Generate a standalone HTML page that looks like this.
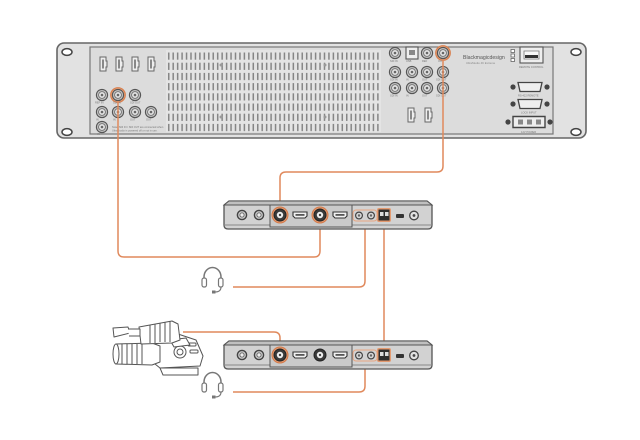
<!DOCTYPE html>
<html><head><meta charset="utf-8"><style>
html,body{margin:0;padding:0;background:#fff;}
svg{display:block;}
text{font-family:"Liberation Sans",sans-serif;}
</style></head><body>
<svg width="640" height="440" viewBox="0 0 640 440" xmlns="http://www.w3.org/2000/svg">
<defs>
<pattern id="vent" x="167" y="52" width="4.45" height="10.2" patternUnits="userSpaceOnUse">
<rect x="1" y="0.5" width="1.5" height="7.2" fill="#858585"/>
</pattern>
<g id="bnc">
<circle r="5.6" fill="#c2c2c2" stroke="#555" stroke-width="1.1"/>
<circle r="3.4" fill="#e2e2e2" stroke="#666" stroke-width="0.8"/>
<circle r="1.3" fill="#666"/>
</g>
<g id="vhdmi">
<path d="M-3,-7 H3 V-3 H4 V3 H3 V7 H-3 Z" fill="#eee" stroke="#666" stroke-width="1"/>
<rect x="-1" y="-4.5" width="2" height="9" fill="#888"/>
</g>
<g id="dbnc">
<circle r="6" fill="#3a3a3a" stroke="#222" stroke-width="1"/>
<circle r="3.2" fill="#eee"/>
<circle r="1.2" fill="#444"/>
</g>
<g id="jack">
<circle r="4.6" fill="#c8c8c8" stroke="#444" stroke-width="1.4"/>
<circle r="2.1" fill="#eee" stroke="#555" stroke-width="0.8"/>
</g>
<g id="hdmi">
<path d="M-7,-3 H7 V1 L5,3 H-5 L-7,1 Z" fill="#f2f2f2" stroke="#333" stroke-width="1.1"/>
<rect x="-4.5" y="-1" width="9" height="1.8" fill="#555"/>
</g>
<g id="sjack">
<circle r="3.4" fill="#d8d8d8" stroke="#444" stroke-width="1.2"/>
<circle r="1.2" fill="#666"/>
</g>
<g id="hp">
<path d="M2,18 V10 A8.5,9.5 0 0 1 19,10 V18" fill="none" stroke="#777" stroke-width="1.5"/>
<rect x="0" y="11" width="4.5" height="9" rx="2" fill="#fff" stroke="#777" stroke-width="1.2"/>
<rect x="16.5" y="11" width="4.5" height="9" rx="2" fill="#fff" stroke="#777" stroke-width="1.2"/>
<path d="M19,20 Q19,25 13,25" fill="none" stroke="#777" stroke-width="1.1"/>
<rect x="10" y="23.5" width="3.5" height="3" fill="#777"/>
</g>
</defs>

<!-- RACK UNIT -->
<rect x="57" y="43" width="529" height="95" rx="7" fill="#e2e2e2" stroke="#666" stroke-width="1.6"/>
<ellipse cx="67" cy="52" rx="5" ry="3.4" fill="#fff" stroke="#444" stroke-width="1.5"/>
<ellipse cx="67" cy="132" rx="5" ry="3.4" fill="#fff" stroke="#444" stroke-width="1.5"/>
<ellipse cx="576" cy="52" rx="5" ry="3.4" fill="#fff" stroke="#444" stroke-width="1.5"/>
<ellipse cx="576" cy="132" rx="5" ry="3.4" fill="#fff" stroke="#444" stroke-width="1.5"/>
<rect x="90" y="47" width="463" height="87" fill="#dcdcdc" stroke="#777" stroke-width="1.2"/>
<!-- vent -->
<rect x="166" y="50" width="215" height="82" fill="#e4e4e4"/>
<rect x="167" y="52" width="213" height="80" fill="url(#vent)"/>
<circle cx="221" cy="65" r="1.5" fill="#999"/><circle cx="325" cy="65" r="1.5" fill="#999"/>
<circle cx="221" cy="117" r="1.5" fill="#999"/><circle cx="325" cy="117" r="1.5" fill="#999"/>

<!-- left HDMI -->
<use href="#vhdmi" x="103" y="64"/><use href="#vhdmi" x="119" y="64"/>
<use href="#vhdmi" x="135" y="64"/><use href="#vhdmi" x="151" y="64"/>
<!-- left BNC grid -->
<use href="#bnc" x="102" y="95"/>
<circle cx="118" cy="95" r="7.3" fill="#e6a27c" stroke="#d9804f" stroke-width="1.2"/>
<use href="#bnc" x="118" y="95"/>
<use href="#bnc" x="135" y="95"/>
<use href="#bnc" x="102" y="112"/><use href="#bnc" x="118" y="112"/>
<use href="#bnc" x="135" y="112"/><use href="#bnc" x="151" y="112"/>
<use href="#bnc" x="102" y="127"/>
<g fill="#777" font-size="2.6">
<text x="95" y="103.5">REF IN</text><text x="113" y="103.5">SDI IN</text><text x="130" y="103.5">SDI OUT</text>
<text x="96" y="120.5">IN</text><text x="113" y="120.5">IN</text><text x="130" y="120.5">OUT</text><text x="146" y="120.5">OUT</text>
<text x="97" y="135">IN</text>
<text x="112" y="128">Note: SDI IN / SDI OUT are connected when</text>
<text x="112" y="131.5">UltraStudio is powered off or not in use.</text>
</g>

<!-- right BNC grid -->
<use href="#bnc" x="395" y="53"/>
<rect x="406" y="47" width="12" height="12" fill="#eee" stroke="#555" stroke-width="1.1"/>
<rect x="409" y="50" width="6" height="5" fill="#888"/>
<use href="#bnc" x="427" y="53"/>
<circle cx="443" cy="53" r="7.3" fill="#e6a27c" stroke="#d9804f" stroke-width="1.2"/>
<use href="#bnc" x="443" y="53"/>
<use href="#bnc" x="395" y="72"/><use href="#bnc" x="412" y="72"/>
<use href="#bnc" x="427" y="72"/><use href="#bnc" x="443" y="72"/>
<use href="#bnc" x="395" y="88"/><use href="#bnc" x="412" y="88"/>
<use href="#bnc" x="427" y="88"/><use href="#bnc" x="443" y="88"/>
<g fill="#777" font-size="2.6">
<text x="390" y="62">SDI IN</text><text x="406" y="62">USB</text><text x="422" y="62">REF</text><text x="438" y="62">OUT</text>
<text x="390" y="80.5">SDI IN</text><text x="406" y="80.5">IN</text><text x="422" y="80.5">OUT</text><text x="436" y="80.5">SDI OUT</text>
<text x="390" y="96.5">SDI IN</text><text x="406" y="96.5">IN</text><text x="422" y="96.5">OUT</text><text x="436" y="96.5">SDI OUT</text>
</g>
<use href="#vhdmi" x="411" y="115"/><use href="#vhdmi" x="428" y="115"/>

<!-- logo -->
<text x="463" y="59" font-size="5.2" fill="#555">Blackmagicdesign</text>
<text x="466" y="64" font-size="2.8" fill="#888">UltraStudio 4K Extreme</text>
<rect x="511" y="49.5" width="3.5" height="3" fill="#fff" stroke="#666" stroke-width="0.8"/>
<rect x="511" y="54" width="3.5" height="3" fill="#fff" stroke="#666" stroke-width="0.8"/>
<rect x="511" y="58.5" width="3.5" height="3" fill="#fff" stroke="#666" stroke-width="0.8"/>
<!-- ethernet -->
<rect x="520" y="47" width="23" height="16" fill="#eee" stroke="#555" stroke-width="1.1"/>
<path d="M524,51 H539 V59 H524 Z" fill="#f8f8f8" stroke="#777" stroke-width="0.8"/>
<rect x="525" y="55" width="13" height="3" fill="#333"/>
<text x="519" y="68" font-size="2.6" fill="#777">REMOTE CONTROL</text>
<!-- DB9s -->
<circle cx="513" cy="87" r="2.6" fill="#444"/><circle cx="547" cy="87" r="2.6" fill="#444"/>
<path d="M518,82.5 H542 L540,91.5 H520 Z" fill="#eee" stroke="#444" stroke-width="1.3"/>
<text x="518" y="96.5" font-size="2.6" fill="#777">RS-422 REMOTE</text>
<circle cx="513" cy="104" r="2.6" fill="#444"/><circle cx="547" cy="104" r="2.6" fill="#444"/>
<path d="M518,99.5 H542 L540,108.5 H520 Z" fill="#eee" stroke="#444" stroke-width="1.3"/>
<text x="521" y="113.5" font-size="2.6" fill="#777">LOCK INPUT</text>
<circle cx="508" cy="122" r="2.6" fill="#444"/><circle cx="550" cy="122" r="2.6" fill="#444"/>
<path d="M513,116.5 H545 V127.5 H513 Z" fill="#eee" stroke="#444" stroke-width="1.4"/>
<rect x="518" y="119.5" width="5" height="5" fill="#888"/><rect x="527" y="119.5" width="5" height="5" fill="#888"/><rect x="536" y="119.5" width="5" height="5" fill="#888"/>
<text x="521" y="133" font-size="2.6" fill="#777">12V POWER</text>

<!-- CONNECTOR LINES -->
<g fill="none" stroke="#e0895c" stroke-width="1.5">
<path d="M118,101 V251 Q118,257 124,257 H314 Q320,257 320,251 V221"/>
<path d="M443,60 V166 Q443,172 437,172 H286 Q280,172 280,178 V207"/>
<path d="M233,287 H359 Q365,287 365,281 V221"/>
<path d="M384,221 V348"/>
<path d="M183,332 H274 Q280,332 280,338 V349"/>
<path d="M233,392 H359 Q365,392 365,386 V362"/>
</g>

<!-- MIDDLE DEVICE -->
<g transform="translate(224,201)">
<path d="M5,0 H203 L208,4 V24 Q208,28 204,28 H4 Q0,28 0,24 V4 Z" fill="#d2d2d2" stroke="#555" stroke-width="1.3"/>
<path d="M5,0 H203 L208,4 H0 Z" fill="#c0c0c0" stroke="#555" stroke-width="0.9"/>
<path d="M0,24 H208" stroke="#888" stroke-width="1"/>
<rect x="46" y="4" width="82" height="22" fill="#cacaca" stroke="#555" stroke-width="1"/>
<use href="#jack" x="18" y="14"/><use href="#jack" x="35" y="14"/>
<circle cx="56" cy="14" r="8" fill="#e39a70" stroke="#d47a4a" stroke-width="1"/>
<use href="#dbnc" x="56" y="14"/>
<use href="#hdmi" x="76" y="14"/>
<circle cx="96" cy="14" r="8" fill="#e39a70" stroke="#d47a4a" stroke-width="1"/>
<use href="#dbnc" x="96" y="14"/>
<use href="#hdmi" x="116" y="14"/>
<rect x="129" y="9" width="24" height="11" rx="3" fill="none" stroke="#e8a783" stroke-width="1"/>
<use href="#sjack" x="135" y="14.5"/><use href="#sjack" x="147" y="14.5"/>
<rect x="153" y="7" width="14" height="14" rx="2" fill="#e39a70"/>
<rect x="154.5" y="8.5" width="11" height="11" fill="#2e2e2e"/>
<rect x="156" y="11" width="3.5" height="4" fill="#ddd"/><rect x="161" y="11" width="3.5" height="4" fill="#ddd"/>
<rect x="172" y="13" width="8" height="4" rx="1" fill="#333"/>
<circle cx="190" cy="14.5" r="4.3" fill="#e2e2e2" stroke="#444" stroke-width="1.3"/>
<circle cx="190" cy="14.5" r="1.4" fill="#444"/>
</g>

<!-- BOTTOM DEVICE -->
<g transform="translate(224,341)">
<path d="M5,0 H203 L208,4 V24 Q208,28 204,28 H4 Q0,28 0,24 V4 Z" fill="#d2d2d2" stroke="#555" stroke-width="1.3"/>
<path d="M5,0 H203 L208,4 H0 Z" fill="#c0c0c0" stroke="#555" stroke-width="0.9"/>
<path d="M0,24 H208" stroke="#888" stroke-width="1"/>
<rect x="46" y="4" width="82" height="22" fill="#cacaca" stroke="#555" stroke-width="1"/>
<use href="#jack" x="18" y="14"/><use href="#jack" x="35" y="14"/>
<circle cx="56" cy="14" r="8" fill="#e39a70" stroke="#d47a4a" stroke-width="1"/>
<use href="#dbnc" x="56" y="14"/>
<use href="#hdmi" x="76" y="14"/>
<use href="#dbnc" x="96" y="14"/>
<use href="#hdmi" x="116" y="14"/>
<rect x="129" y="9" width="24" height="11" rx="3" fill="none" stroke="#e8a783" stroke-width="1"/>
<use href="#sjack" x="135" y="14.5"/><use href="#sjack" x="147" y="14.5"/>
<rect x="153" y="7" width="14" height="14" rx="2" fill="#e39a70"/>
<rect x="154.5" y="8.5" width="11" height="11" fill="#2e2e2e"/>
<rect x="156" y="11" width="3.5" height="4" fill="#ddd"/><rect x="161" y="11" width="3.5" height="4" fill="#ddd"/>
<rect x="172" y="13" width="8" height="4" rx="1" fill="#333"/>
<circle cx="190" cy="14.5" r="4.3" fill="#e2e2e2" stroke="#444" stroke-width="1.3"/>
<circle cx="190" cy="14.5" r="1.4" fill="#444"/>
</g>

<!-- HEADPHONES -->
<use href="#hp" x="202" y="267"/>
<use href="#hp" x="202" y="372"/>

<!-- CAMERA -->
<g fill="#fff" stroke="#555" stroke-width="1" stroke-linejoin="round">
<path d="M150,338 L178,334 L196,340 L203,356 L200,366 L160,368 L150,360 Z"/>
<path d="M160,368 H198 V375 H163 Z"/>
<circle cx="180" cy="352" r="6"/>
<circle cx="180" cy="352" r="3"/>
<rect x="188" y="343" width="8" height="3" rx="1"/>
<rect x="190" y="350" width="8" height="3" rx="1"/>
<path d="M170,340 L186,338 L190,345 L174,347 Z"/>
<path d="M116,344 L152,343 L160,346 L160,362 L152,365 L116,364 Z"/>
<path d="M122,344 V364 M127,344 V364 M132,344 V364 M137,344 V364 M142,344 V364"/>
<ellipse cx="116" cy="354" rx="3" ry="10"/>
<path d="M139,327 L172,321 L178,324 L180,340 L172,343 L141,344 Z"/>
<path d="M150,325 V343 M155,324 V343 M160,323 V342 M165,322 V342 M170,321 V342"/>
<path d="M113,328 L128,327 L130,333 L114,337 Z"/>
<path d="M128,329 L140,329 L140,336 L129,336"/>
</g>
</svg>
</body></html>
